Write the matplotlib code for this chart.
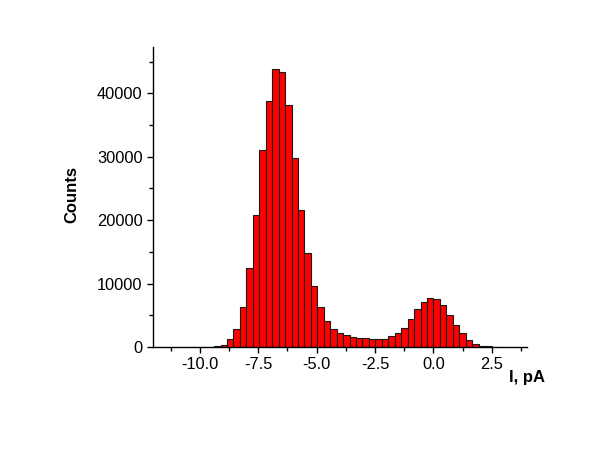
import matplotlib
matplotlib.use("Agg")
import matplotlib.pyplot as plt
from matplotlib.ticker import MultipleLocator

plt.rcParams['font.family'] = ['Liberation Sans', 'DejaVu Sans']

# histogram of current levels, bin width
bin_width = 0.2761
first_edge = -35 * bin_width
counts = [60, 160, 316, 1210, 2890, 6370, 12420, 20890, 31050, 38780,
          43830, 43300, 38150, 29780, 21620, 14810, 9650, 6280, 4150, 2810,
          2180, 1840, 1580, 1370, 1350, 1315, 1210, 1315, 1740, 2160,
          3050, 4470, 6050, 7100, 7790, 7630, 6580, 5000, 3420, 2160,
          1100, 525, 210, 100, 50]
edges = [first_edge + i * bin_width for i in range(len(counts))]

fig = plt.figure(figsize=(6, 4.63), dpi=100)
ax = fig.add_axes([0.255, 0.2505, 0.6233, 0.648])

ax.bar(edges, counts, width=bin_width, align='edge',
       color='#ff0000', edgecolor='#1a1a1a', linewidth=0.8)

ax.set_xlim(-12, 4)
ax.set_ylim(0, 47300)
ax.xaxis.set_major_locator(MultipleLocator(2.5))
ax.xaxis.set_minor_locator(MultipleLocator(1.25))
ax.yaxis.set_major_locator(MultipleLocator(10000))
ax.yaxis.set_minor_locator(MultipleLocator(5000))
ax.xaxis.set_major_formatter(plt.FuncFormatter(lambda v, p: f"{v:.1f}"))

for s in ['top', 'right']:
    ax.spines[s].set_visible(False)
for s in ['left', 'bottom']:
    ax.spines[s].set_linewidth(1.0)

ax.tick_params(which='major', direction='out', length=4, width=1, labelsize=11.8)
ax.tick_params(axis='y', which='major', pad=3.5)
ax.tick_params(axis='x', which='major', pad=3)
ax.tick_params(which='minor', direction='out', length=3, width=1)

ax.set_xlabel('I, pA', fontsize=12, fontweight='bold')
ax.xaxis.set_label_coords(1.0, -0.078)
ax.set_ylabel('Counts', fontsize=12, fontweight='bold')
ax.yaxis.set_label_coords(-0.197, 0.507)

fig.savefig('out.png', dpi=100)
